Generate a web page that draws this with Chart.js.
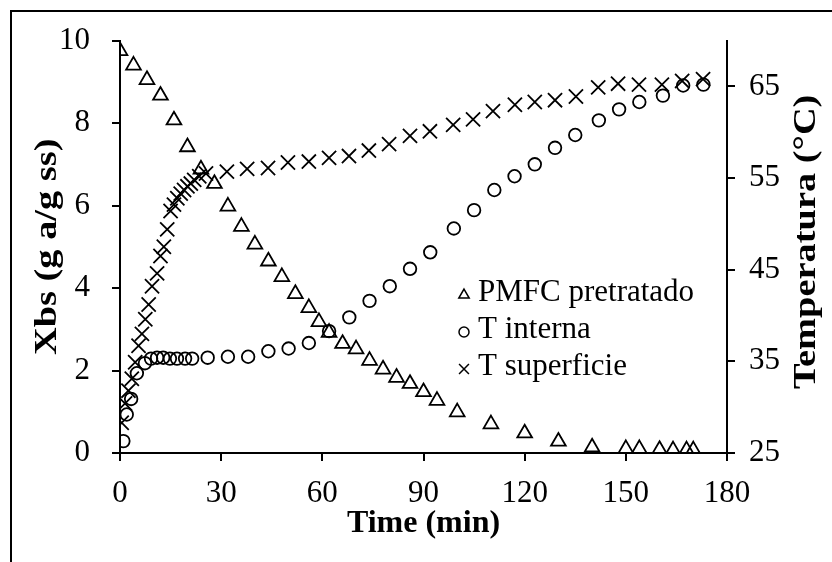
<!DOCTYPE html>
<html>
<head>
<meta charset="utf-8">
<script src="https://cdn.jsdelivr.net/npm/chart.js@4.4.1/dist/chart.umd.min.js"></script>
<style>
  body { margin: 0; background: #fff; }
  #wrap { position: relative; width: 832px; height: 562px; }
  #frame {
    position: absolute; left: 10px; top: 10px; right: 0; bottom: 0;
    border-left: 2px solid #000; border-top: 2px solid #000;
    pointer-events: none;
  }
</style>
</head>
<body>
<div id="wrap">
  <canvas id="chartDrying" width="832" height="562"></canvas>
  <div id="frame"></div>
</div>
<script>
// moisture of pretreated PMFC (left axis) and temperatures (right axis)
const pmfcTime = [0, 4, 8, 12, 16, 20, 24, 28, 32, 36, 40, 44, 48, 52, 56, 59, 62, 66, 70, 74,
  78, 82, 86, 90, 94, 100, 110, 120, 130, 140, 150, 154, 160, 164, 168, 170];
const pmfcXbs = [9.75, 9.4, 9.05, 8.67, 8.07, 7.42, 6.88, 6.53, 5.98, 5.49, 5.06, 4.65, 4.27, 3.86, 3.52, 3.18, 2.92, 2.65, 2.52, 2.24,
  2.03, 1.83, 1.68, 1.48, 1.27, 0.99, 0.7, 0.48, 0.28, 0.14, 0.1, 0.1, 0.08, 0.07, 0.07, 0.07];

const tIntTime = [1, 2, 3.3, 5, 7.4, 9.2, 11, 12.8, 14.8, 16.9, 19.3, 21.4, 26, 32, 38, 44, 50, 56, 62, 68,
  74, 80, 86, 92, 99, 105, 111, 117, 123, 129, 135, 142, 148, 154, 161, 167, 173];
const tIntTemp = [26.3, 29.2, 30.9, 33.7, 34.8, 35.3, 35.4, 35.4, 35.3, 35.3, 35.3, 35.3, 35.4, 35.5, 35.5, 36.1, 36.4, 37.0, 38.3, 39.8,
  41.6, 43.2, 45.1, 46.9, 49.5, 51.5, 53.7, 55.2, 56.5, 58.3, 59.7, 61.3, 62.5, 63.3, 64.0, 65.1, 65.2];

const tSupTime = [0.5, 1.5, 2.5, 3.5, 4.5, 5.5, 6.5, 7.5, 8.5, 9.5, 11, 12, 13, 14, 15, 16, 17, 18, 19, 20,
  21, 22, 23.5, 25.5, 31.7, 37.7, 43.9, 49.8, 56, 62, 67.9, 73.8, 79.8, 86, 91.9, 98.8, 104.7, 110.6, 117.1, 123,
  129, 135.2, 141.8, 147.7, 153.9, 160.7, 166.7, 172.9];
const tSupTemp = [28.3, 30.4, 31.8, 33.1, 34.9, 36.7, 38.0, 39.6, 41.2, 43.2, 44.6, 46.5, 47.5, 49.4, 51.4, 52.1, 52.8, 53.3, 53.7, 54.1,
  54.4, 54.8, 55.2, 55.5, 55.7, 56.0, 56.1, 56.7, 56.8, 57.2, 57.4, 58.0, 58.7, 59.6, 60.1, 60.8, 61.4, 62.3, 63.0, 63.3,
  63.5, 63.9, 64.9, 65.3, 65.2, 65.2, 65.6, 65.8];

const seriesLabels = ["PMFC pretratado", "T interna", "T superficie"];
const timeTicks = [0, 30, 60, 90, 120, 150, 180];
const xbsTicks = [0, 2, 4, 6, 8, 10];
const tempTicks = [25, 35, 45, 55, 65];

const xTitle = "Time (min)";
const yTitle = "Xbs (g a/g ss)";
const y2Title = "Temperatura (°C)";

const serif = '"Liberation Serif", "Times New Roman", serif';
const tickFont = { family: serif, size: 31 };

const toPoints = (xs, ys) => xs.map((x, i) => ({ x: x, y: ys[i] }));

// vertical title, stretched a little along its length
function drawSideTitle(ctx, text, x, y) {
  ctx.save();
  ctx.translate(x, y);
  ctx.scale(1, 1.2);
  ctx.rotate(-Math.PI / 2);
  ctx.fillText(text, 0, 0);
  ctx.restore();
}

// titles and the inner legend are drawn by hand
const legendRadius = [6, 5, 7];
const titlesAndLegend = {
  id: "titlesAndLegend",
  afterDraw(chart) {
    const { ctx, chartArea } = chart;
    const midX = (chartArea.left + chartArea.right) / 2;
    const midY = (chartArea.top + chartArea.bottom) / 2;
    ctx.save();
    ctx.fillStyle = "#000";
    ctx.textAlign = "center";
    ctx.textBaseline = "middle";
    ctx.font = "bold 32px " + serif;
    ctx.fillText(xTitle, midX, 524);

    drawSideTitle(ctx, yTitle, 48, midY);
    drawSideTitle(ctx, y2Title, 807, midY - 5);

    ctx.font = "31px " + serif;
    ctx.textAlign = "left";
    chart.data.datasets.forEach((ds, i) => {
      const y = 293 + i * 37;
      ctx.save();
      ctx.lineWidth = 1.5;
      ctx.strokeStyle = "#000";
      ctx.fillStyle = "rgba(0,0,0,0)";
      Chart.helpers.drawPoint(ctx, { pointStyle: ds.pointStyle, radius: legendRadius[i], rotation: 0, borderWidth: 1.5 }, 464, y + 2);
      ctx.restore();
      ctx.fillText(ds.label, 478, y);
    });
    ctx.restore();
  }
};

const axisStyle = (extra) => Object.assign({
  border: { color: "#000", width: 2 },
  grid: { drawOnChartArea: false, tickLength: 8, color: "#000", lineWidth: 2 },
  ticks: { color: "#000", font: tickFont, autoSkip: false, maxRotation: 0 }
}, extra);

new Chart(document.getElementById("chartDrying"), {
  type: "scatter",
  data: {
    datasets: [
      {
        label: seriesLabels[0],
        data: toPoints(pmfcTime, pmfcXbs),
        yAxisID: "y",
        pointStyle: "triangle",
        pointRadius: 8.5,
        borderWidth: 1.8,
        borderColor: "#000",
        backgroundColor: "rgba(0,0,0,0)"
      },
      {
        label: seriesLabels[1],
        data: toPoints(tIntTime, tIntTemp),
        yAxisID: "y2",
        pointStyle: "circle",
        pointRadius: 6.3,
        borderWidth: 1.8,
        borderColor: "#000",
        backgroundColor: "rgba(0,0,0,0)"
      },
      {
        label: seriesLabels[2],
        data: toPoints(tSupTime, tSupTemp),
        yAxisID: "y2",
        pointStyle: "crossRot",
        pointRadius: 10,
        borderWidth: 1.8,
        borderColor: "#000",
        backgroundColor: "rgba(0,0,0,0)"
      }
    ]
  },
  options: {
    responsive: false,
    animation: false,
    layout: { padding: { top: 38, left: 0, right: 0, bottom: 0 } },
    plugins: { legend: { display: false }, tooltip: { enabled: false } },
    scales: {
      x: axisStyle({
        type: "linear", min: 0, max: 180,
        afterBuildTicks: (s) => { s.ticks = timeTicks.map((v) => ({ value: v })); },
        afterFit: (s) => { s.height = 109; },
        ticks: { color: "#000", font: tickFont, autoSkip: false, maxRotation: 0, padding: 14 }
      }),
      y: axisStyle({
        position: "left", min: 0, max: 10,
        afterBuildTicks: (s) => { s.ticks = xbsTicks.map((v) => ({ value: v })); },
        afterFit: (s) => { s.width = 120; },
        ticks: { color: "#000", font: tickFont, autoSkip: false, padding: 22 }
      }),
      y2: axisStyle({
        position: "right", min: 25, max: 70,
        afterBuildTicks: (s) => { s.ticks = tempTicks.map((v) => ({ value: v })); },
        afterFit: (s) => { s.width = 105; },
        ticks: { color: "#000", font: tickFont, autoSkip: false, padding: 14 }
      })
    }
  },
  plugins: [titlesAndLegend]
});
</script>
</body>
</html>
